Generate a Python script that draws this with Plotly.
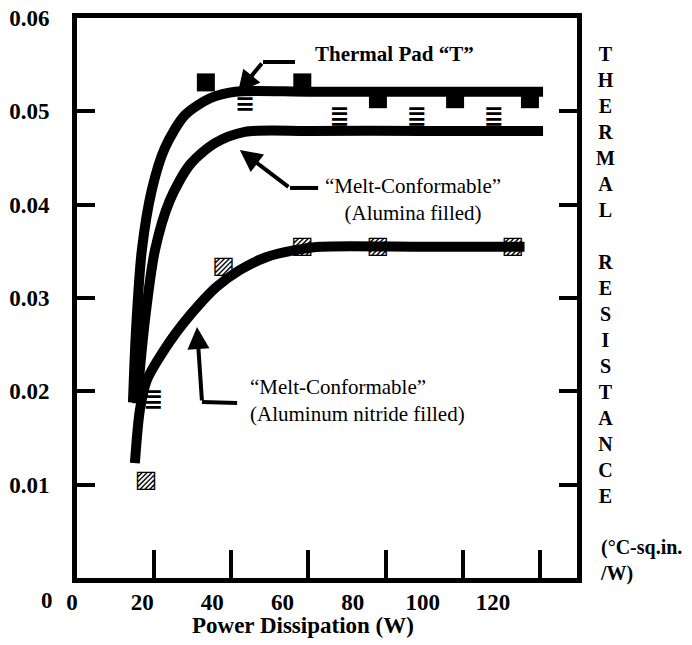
import plotly.graph_objects as go

# ---------------- data ----------------
# Fitted curves (Power W, Thermal resistance)
tpad_curve_x = [14.5, 15.3, 16.8, 19.4, 22.8, 28.0, 34.5, 41.0, 60.0, 90.0, 120.8]
tpad_curve_y = [0.0188, 0.0266, 0.0351, 0.0416, 0.0461, 0.0496, 0.0514, 0.0521, 0.0521, 0.0521, 0.0521]

alum_curve_x = [15.5, 17.6, 20.2, 24.1, 29.3, 35.8, 43.5, 60.0, 90.0, 120.8]
alum_curve_y = [0.0187, 0.0276, 0.0351, 0.0405, 0.0443, 0.0466, 0.0478, 0.0479, 0.0479, 0.0479]

aln_curve_x = [15.0, 16.3, 18.1, 23.2, 27.6, 31.9, 36.2, 42.2, 49.2, 56.1, 63.0, 90.0, 116.0]
aln_curve_y = [0.0123, 0.0180, 0.0212, 0.0248, 0.0273, 0.0294, 0.0312, 0.0330, 0.0344, 0.0351,
               0.0355, 0.0355, 0.0355]

# Measured points
tpad_pts_x = [33.4, 58.4, 78.0, 98.0, 117.4]
tpad_pts_y = [0.0531, 0.0531, 0.0513, 0.0513, 0.0513]

alum_pts_x = [19.7, 43.5, 68.0, 88.0, 108.0]
alum_pts_y = [0.0190, 0.0509, 0.0493, 0.0493, 0.0493]

aln_pts_x = [17.9, 38.0, 58.4, 78.0, 113.0]
aln_pts_y = [0.0104, 0.0333, 0.0355, 0.0355, 0.0355]

# Axis ticks
x_tick_vals = [0, 20, 40, 60, 80, 100, 120]
x_tick_text = ["0", "20", "40", "60", "80", "100", "120"]
y_tick_vals = [0, 0.01, 0.02, 0.03, 0.04, 0.05, 0.06]
y_tick_text = ["", "0.01", "0.02", "0.03", "0.04", "0.05", "0.06"]

SERIF = "Liberation Serif, Times New Roman, serif"
SYM = "DejaVu Sans"

fig = go.Figure()

# markers first (curves drawn over them)
fig.add_trace(go.Scatter(x=tpad_pts_x, y=tpad_pts_y, mode="markers",
                         marker=dict(symbol="square", size=18, color="black"),
                         showlegend=False, hoverinfo="skip"))
fig.add_trace(go.Scatter(x=alum_pts_x, y=alum_pts_y, mode="text", text=["<b>≣</b>"] * len(alum_pts_x),
                         textfont=dict(family=SYM, size=24, color="black"),
                         showlegend=False, hoverinfo="skip"))
fig.add_trace(go.Scatter(x=aln_pts_x, y=aln_pts_y, mode="text", text=["▨"] * len(aln_pts_x),
                         textfont=dict(family=SYM, size=24, color="black"),
                         showlegend=False, hoverinfo="skip"))

for cx, cy in [(tpad_curve_x, tpad_curve_y), (alum_curve_x, alum_curve_y), (aln_curve_x, aln_curve_y)]:
    fig.add_trace(go.Scatter(x=cx, y=cy, mode="lines",
                             line=dict(color="black", width=10, shape="spline", smoothing=0.8),
                             showlegend=False, hoverinfo="skip"))

# dummy trace so the label-only axis is drawn
fig.add_trace(go.Scatter(x=[0, 120], y=[None, None], xaxis="x2", mode="markers",
                         showlegend=False, hoverinfo="skip"))

annotations = [
    # Thermal Pad T
    dict(x=82.2, y=0.0561, xref="x", yref="y", text="<b>Thermal Pad “T”</b>", showarrow=False,
         font=dict(family=SERIF, size=21, color="black"), xanchor="center", yanchor="middle"),
    dict(x=41.7, y=0.0520, ax=48.2, ay=0.05529, xref="x", yref="y", axref="x", ayref="y",
         text="", showarrow=True, arrowhead=2, arrowsize=1.1, arrowwidth=4, arrowcolor="black"),
    # Alumina
    dict(x=87.1, y=0.0406, xref="x", yref="y", text="“Melt-Conformable”<br>(Alumina filled)",
         showarrow=False, font=dict(family=SERIF, size=21, color="black"),
         xanchor="center", yanchor="middle"),
    dict(x=42.2, y=0.04586, ax=55.2, ay=0.04179, xref="x", yref="y", axref="x", ayref="y",
         text="", showarrow=True, arrowhead=2, arrowsize=1.1, arrowwidth=4, arrowcolor="black"),
    # Aluminum nitride
    dict(x=44.3, y=0.01907, xref="x", yref="y",
         text="“Melt-Conformable”<br>(Aluminum nitride filled)",
         showarrow=False, font=dict(family=SERIF, size=21, color="black"),
         xanchor="left", yanchor="middle", align="left"),
    dict(x=31.1, y=0.02689, ax=32.4, ay=0.01886, xref="x", yref="y", axref="x", ayref="y",
         text="", showarrow=True, arrowhead=2, arrowsize=1.1, arrowwidth=4, arrowcolor="black"),
    # right-side stacked title
    dict(x=1.0258, y=0.541, xref="paper", yref="paper",
         text="<b>" + "<br>".join(list("THERMAL")) + "<br> <br>" + "<br>".join(list("RESISTANCE")) + "</b>",
         showarrow=False, font=dict(family=SERIF, size=20, color="black"),
         xanchor="center", yanchor="middle", align="center"),
    dict(x=1.011, y=0.032, xref="paper", yref="paper", text="<b>(°C-sq.in.<br>/W)</b>",
         showarrow=False, font=dict(family=SERIF, size=20, color="black"),
         xanchor="left", yanchor="middle", align="left"),
    # x title
    dict(x=0.4668, y=-0.0857, xref="paper", yref="paper", text="<b>Power Dissipation (W)</b>",
         showarrow=False, font=dict(family=SERIF, size=23, color="black"),
         xanchor="center", yanchor="middle"),
    # y zero label
    dict(x=-0.0055, y=-0.0393, xref="paper", yref="paper", text="<b>0</b>",
         showarrow=False, font=dict(family=SERIF, size=23, color="black"),
         xanchor="center", yanchor="middle"),
]

shapes = [
    dict(type="line", xref="x", yref="y", x0=48.2, y0=0.05529, x1=56.5, y1=0.05529,
         line=dict(color="black", width=4)),
    dict(type="line", xref="x", yref="y", x0=55.2, y0=0.04179, x1=62.5, y1=0.04179,
         line=dict(color="black", width=4)),
    dict(type="line", xref="x", yref="y", x0=32.4, y0=0.01886, x1=41.5, y1=0.01875,
         line=dict(color="black", width=4)),
]

fig.update_layout(
    width=692, height=645,
    margin=dict(l=50, r=100, t=18, b=67, autoexpand=False),
    paper_bgcolor="white", plot_bgcolor="rgba(0,0,0,0)",
    showlegend=False,
    annotations=annotations,
    shapes=shapes,
    xaxis=dict(domain=[27 / 542, 527 / 542], range=[0, 129.6], anchor="y",
               tickvals=x_tick_vals, showticklabels=False, automargin=False,
               ticks="inside", ticklen=28, tickwidth=4, tickcolor="black",
               showline=True, linewidth=5, linecolor="black", mirror=True,
               showgrid=False, zeroline=False),
    xaxis2=dict(domain=[4.5 / 542, 460.5 / 542], range=[-5, 125], anchor="y",
                tickvals=x_tick_vals, ticktext=["<b>%s</b>" % t for t in x_tick_text], ticks="",
                showline=False, showgrid=False, zeroline=False, automargin=False,
                tickfont=dict(family=SERIF, size=23, color="black"),
                ticklabelstandoff=8, ticklabeloverflow="allow"),
    yaxis=dict(range=[0, 0.06], anchor="x", tickvals=y_tick_vals,
               ticktext=["<b>%s</b>" % t if t else "" for t in y_tick_text],
               ticks="inside", ticklen=18, tickwidth=4, tickcolor="black",
               showline=True, linewidth=5, linecolor="black", mirror="ticks",
               showgrid=False, zeroline=False, automargin=False,
               tickfont=dict(family=SERIF, size=23, color="black"),
               ticklabelstandoff=18, ticklabeloverflow="allow"),
)

# remove the default 8px page margin so the 692x645 figure fills the window exactly
fig.write_html("out.html", config={"displayModeBar": False},
               post_script="document.body.style.margin='0';")
